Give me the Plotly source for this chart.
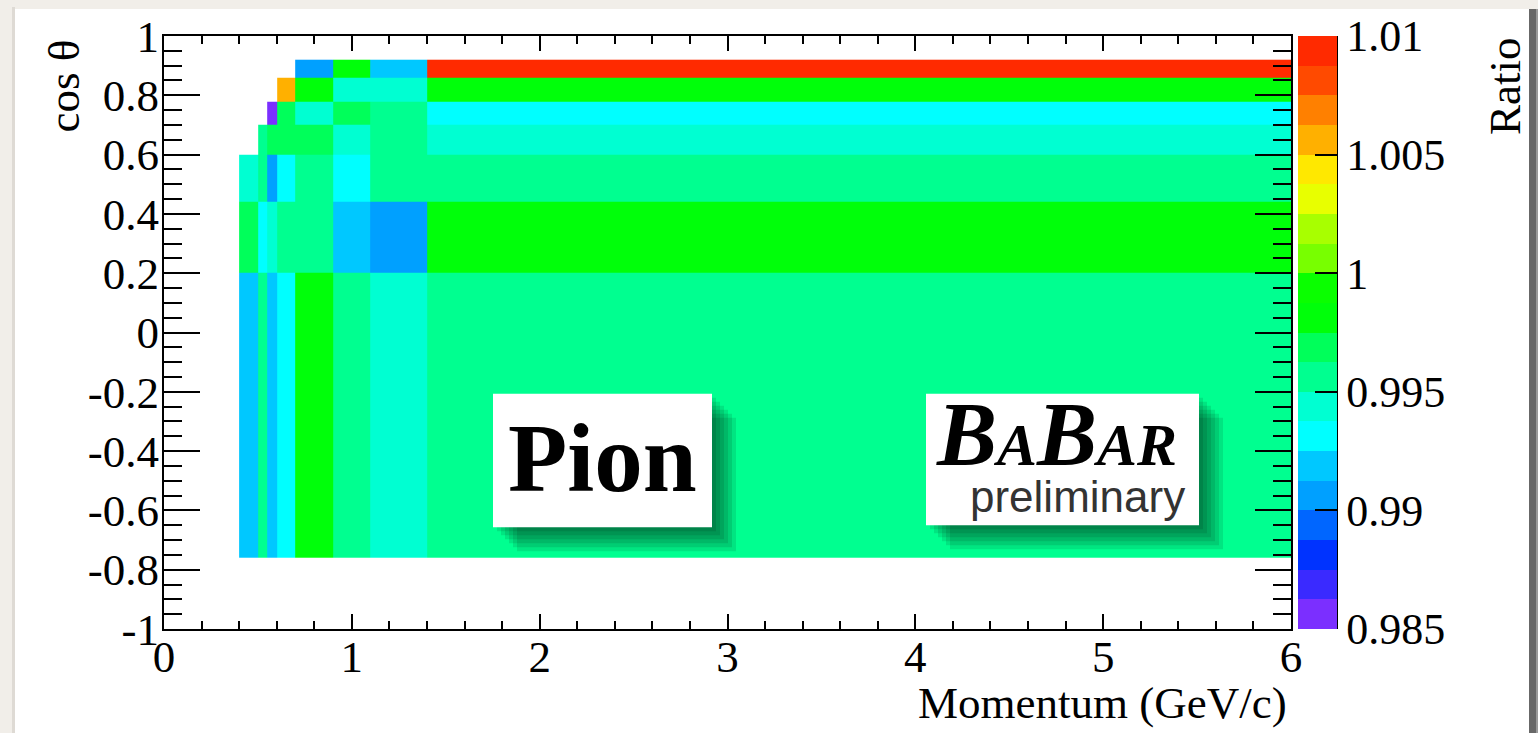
import plotly.graph_objects as go

# ---------------- data ----------------
momentum_edges = [0.4, 0.5, 0.55, 0.6, 0.7, 0.9, 1.1, 1.4, 6.0]
costheta_edges = [-0.76, 0.2, 0.44, 0.6, 0.7, 0.78, 0.86, 0.92]

# ratio per cos(theta) row (bottom -> top), columns follow momentum bins
row_m076_020 = [0.9920, 0.9956, 0.9918, 0.9932, 0.9985, 0.9958, 0.9945, 0.9957]
row_020_044 = [0.9968, 0.9933, 0.9944, 0.9955, 0.9957, 0.9921, 0.9905, 0.9983]
row_044_060 = [0.9946, 0.9953, 0.9907, 0.9931, 0.9955, 0.9934, 0.9957, 0.9956]
row_060_070 = [None, 0.9954, 0.9970, 0.9969, 0.9971, 0.9944, 0.9958, 0.9943]
row_070_078 = [None, None, 0.9855, 0.9966, 0.9945, 0.9972, 0.9955, 0.9934]
row_078_086 = [None, None, None, 1.0058, 0.9985, 0.9944, 0.9946, 0.9984]
row_086_092 = [None, None, None, None, 0.9906, 0.9986, 0.9920, 1.0095]

z_min, z_max = 0.985, 1.01
band_colors = [
    "#7B2FFF", "#3A2AFF", "#0033FF", "#0066FF", "#00A0FF",
    "#00C8FF", "#00FFFF", "#00FFD2", "#00FF90", "#00FF5A",
    "#00FF0A", "#0AFF00", "#78FF00", "#A8FF00", "#E8FF00",
    "#FFE800", "#FFB000", "#FF8000", "#FF4A00", "#FF2A00",
]
cbar_tickvals = [0.985, 0.99, 0.995, 1.0, 1.005, 1.01]
cbar_ticktext = ["0.985", "0.99", "0.995", "1", "1.005", "1.01"]
x_tickvals = [0, 1, 2, 3, 4, 5, 6]
x_ticktext = ["0", "1", "2", "3", "4", "5", "6"]
y_tickvals = [-1, -0.8, -0.6, -0.4, -0.2, 0, 0.2, 0.4, 0.6, 0.8, 1]
y_ticktext = ["-1", "-0.8", "-0.6", "-0.4", "-0.2", "0", "0.2", "0.4", "0.6", "0.8", "1"]

z = [row_m076_020, row_020_044, row_044_060, row_060_070,
     row_070_078, row_078_086, row_086_092]

# ---------------- layout geometry ----------------
W, H = 1538, 733
L, R, T, B = 164, 1291, 34, 629
PW, PH = R - L, B - T


def px(x):
    return (x - L) / PW


def py(y):
    return (B - y) / PH


n = len(band_colors)
colorscale = []
for k, c in enumerate(band_colors):
    colorscale.append([k / n, c])
    colorscale.append([(k + 1) / n, c])

SERIF = "Liberation Serif, Times New Roman, serif"
SANS = "Liberation Sans, Arial, sans-serif"

fig = go.Figure()
fig.add_trace(go.Heatmap(
    x=momentum_edges, y=costheta_edges, z=z,
    zmin=z_min, zmax=z_max, colorscale=colorscale,
    hoverongaps=False,
    colorbar=dict(
        x=px(1298), xanchor="left", y=0.5, yanchor="middle",
        len=1, lenmode="fraction", thickness=39, thicknessmode="pixels",
        xpad=0, ypad=0, outlinewidth=0,
        ticks="inside", ticklen=22, tickwidth=2, tickcolor="black",
        tickvals=cbar_tickvals, ticktext=cbar_ticktext,
        tickfont=dict(family=SERIF, size=44, color="black"),
    ),
))

axis_common = dict(
    showgrid=False, zeroline=False, showline=True, linecolor="black",
    linewidth=2, mirror="ticks", ticks="inside", tickcolor="black",
    tickwidth=1.5, tickfont=dict(family=SERIF, size=45, color="black"),
)
fig.update_xaxes(range=[0, 6], tickvals=x_tickvals, ticktext=x_ticktext,
                 ticklen=15, ticklabelstandoff=-13,
                 minor=dict(ticks="inside", ticklen=8, dtick=0.2,
                            tickcolor="black", tickwidth=1.5),
                 **axis_common)
fig.update_yaxes(range=[-1, 1], tickvals=y_tickvals, ticktext=y_ticktext,
                 ticklen=36, ticklabelstandoff=-6,
                 minor=dict(ticks="inside", ticklen=18, dtick=0.05,
                            tickcolor="black", tickwidth=1.5),
                 **axis_common)

shapes = []
# page shadow and white panel
shapes.append(dict(type="rect", xref="paper", yref="paper", layer="below",
                   x0=px(12), x1=px(15), y0=py(740), y1=py(5),
                   fillcolor="#dedad4", line=dict(width=0)))
shapes.append(dict(type="rect", xref="paper", yref="paper", layer="below",
                   x0=px(1529), x1=px(1536), y0=py(740), y1=py(7),
                   fillcolor="#686868", line=dict(width=0)))
shapes.append(dict(type="rect", xref="paper", yref="paper", layer="below",
                   x0=px(1536), x1=px(1540), y0=py(740), y1=py(7),
                   fillcolor="#9a9a9a", line=dict(width=0)))
shapes.append(dict(type="rect", xref="paper", yref="paper", layer="below",
                   x0=px(15), x1=px(1529), y0=py(740), y1=py(7),
                   fillcolor="white", line=dict(width=0)))
# colorbar right axis line
shapes.append(dict(type="line", xref="paper", yref="paper", layer="above",
                   x0=px(1337), x1=px(1337), y0=0, y1=1,
                   line=dict(color="black", width=2)))


def label_box(x0, y0, x1, y1):
    for d in [4, 8, 12, 16, 20, 24]:
        shapes.append(dict(type="rect", xref="paper", yref="paper", layer="above",
                           x0=px(x0 + d), x1=px(x1 + d), y0=py(y1 + d), y1=py(y0 + d),
                           fillcolor="black", opacity=0.1, line=dict(width=0)))
    shapes.append(dict(type="rect", xref="paper", yref="paper", layer="above",
                       x0=px(x0), x1=px(x1), y0=py(y1), y1=py(y0),
                       fillcolor="white", line=dict(width=0)))


label_box(493, 393, 712, 527)
label_box(926, 393, 1199, 525)

annotations = [
    dict(text="<b>Pion</b>", x=px(602), y=py(458), xref="paper", yref="paper",
         xanchor="center", yanchor="middle", showarrow=False,
         font=dict(family=SERIF, size=97, color="black")),
    dict(text="<b><i>B<span style='font-size:60px'>A</span>B<span style='font-size:60px'>AR</span></i></b>",
         x=px(1056), y=py(434), xref="paper", yref="paper",
         xanchor="center", yanchor="middle", showarrow=False,
         font=dict(family=SERIF, size=90, color="black")),
    dict(text="preliminary", x=px(1187), y=py(496), xref="paper", yref="paper",
         xanchor="right", yanchor="middle", showarrow=False,
         font=dict(family=SANS, size=44, color="#333333")),
    dict(text="Momentum (GeV/c)", x=px(1289), y=py(703), xref="paper", yref="paper",
         xanchor="right", yanchor="middle", showarrow=False,
         font=dict(family=SERIF, size=45, color="black")),
    dict(text="cos θ", x=px(64), y=py(36), xref="paper", yref="paper",
         xanchor="center", yanchor="top", showarrow=False, textangle=-90,
         font=dict(family=SERIF, size=45, color="black")),
    dict(text="Ratio", x=px(1505), y=py(33), xref="paper", yref="paper",
         xanchor="center", yanchor="top", showarrow=False, textangle=-90,
         font=dict(family=SERIF, size=45, color="black")),
]

fig.update_layout(
    width=W, height=H, autosize=False,
    margin=dict(l=L, r=W - R, t=T, b=H - B),
    paper_bgcolor="#F1EEE9", plot_bgcolor="white",
    shapes=shapes, annotations=annotations, showlegend=False,
)

fig.write_html("out.html")
